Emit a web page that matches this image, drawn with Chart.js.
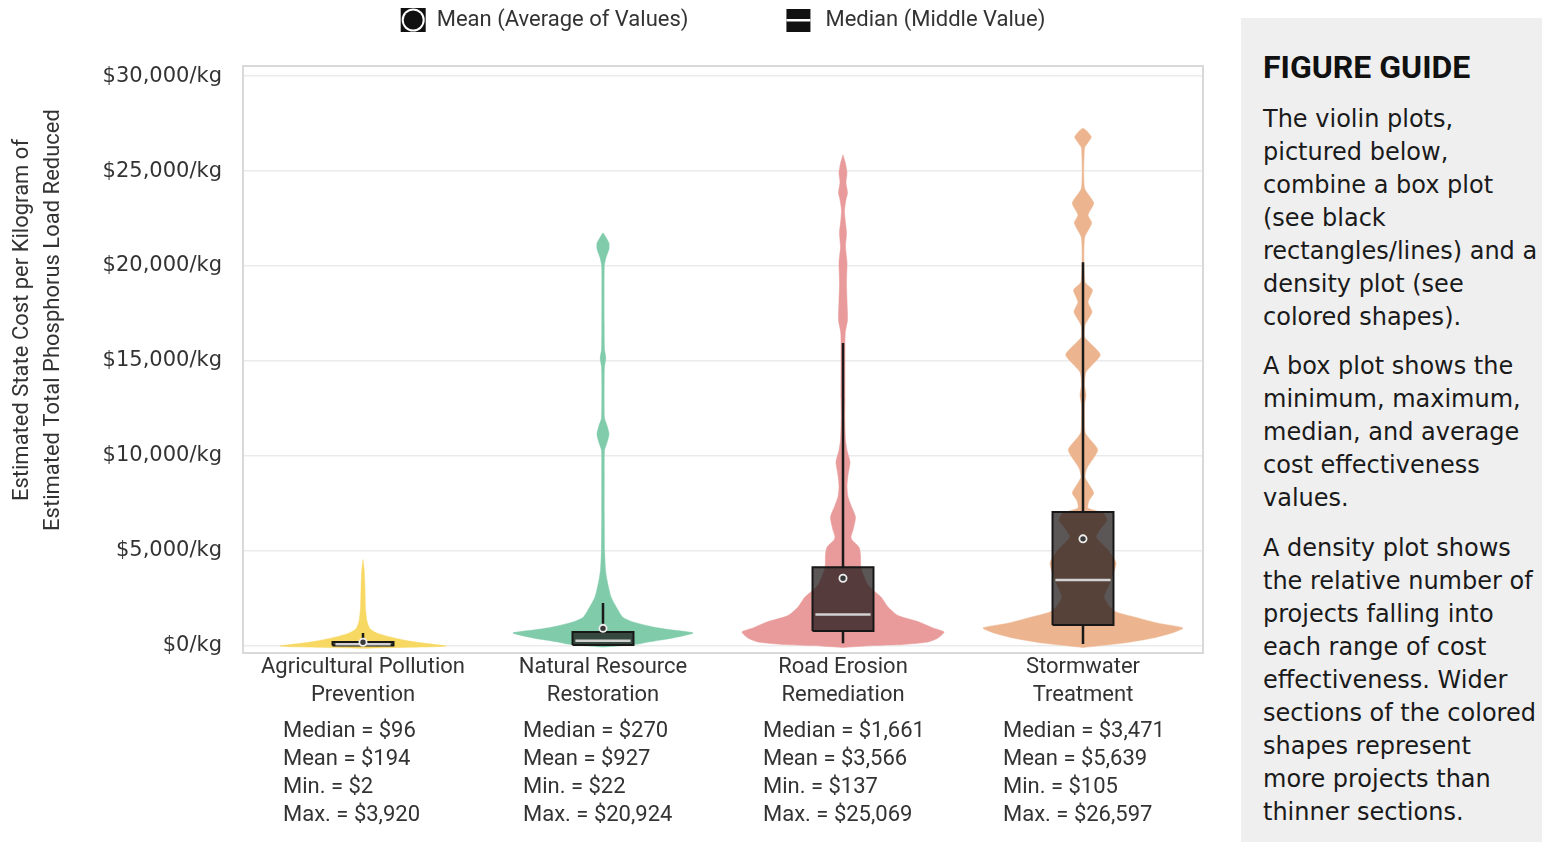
<!DOCTYPE html>
<html>
<head>
<meta charset="utf-8">
<script src="https://cdn.jsdelivr.net/npm/chart.js@4.4.1/dist/chart.umd.min.js"></script>
<style>
html,body{margin:0;padding:0;background:#fff;width:1542px;height:842px;overflow:hidden;}
#wrap{position:relative;width:1542px;height:842px;}
#chart{position:absolute;left:0;top:0;}
#guide{position:absolute;left:1241px;top:18px;width:301px;height:824px;background:#efefef;overflow:hidden;}
#guide .gt{position:absolute;left:22px;top:31px;font:bold 32px Roboto, sans-serif;line-height:36px;color:#111;white-space:nowrap;}
#guide .gp{position:absolute;left:22px;font:24px "DejaVu Sans", Verdana, sans-serif;line-height:33px;color:#1a1a1a;white-space:nowrap;}
</style>
</head>
<body>
<div id="wrap">
  <canvas id="chart" width="1542" height="842"></canvas>
  <div id="guide">
    <div class="gt">FIGURE GUIDE</div>
    <div class="gp" style="top:85px">The violin plots,<br>pictured below,<br>combine a box plot<br>(see black<br>rectangles/lines) and a<br>density plot (see<br>colored shapes).</div>
    <div class="gp" style="top:332px">A box plot shows the<br>minimum, maximum,<br>median, and average<br>cost effectiveness<br>values.</div>
    <div class="gp" style="top:514px">A density plot shows<br>the relative number of<br>projects falling into<br>each range of cost<br>effectiveness. Wider<br>sections of the colored<br>shapes represent<br>more projects than<br>thinner sections.</div>
  </div>
</div>
<script>
// ---------------- DATA ----------------
const categories = [
  ["Agricultural Pollution", "Prevention"],
  ["Natural Resource", "Restoration"],
  ["Road Erosion", "Remediation"],
  ["Stormwater", "Treatment"]
];
const medianValues = [96, 270, 1661, 3471];
const meanValues   = [194, 927, 3566, 5639];
const minValues    = [2, 22, 137, 105];
const maxValues    = [3920, 20924, 25069, 26597];
const q1Values     = [30, 50, 790, 1100];
const q3Values     = [210, 740, 4150, 7050];
const whiskerHigh  = [680, 2260, 15950, 20200];

const yTickValues = [0, 5000, 10000, 15000, 20000, 25000, 30000];

// density profiles: value levels ($/kg) and relative density (1 = widest)
const agLevels  = [-120, -40, 0, 150, 300, 500, 700, 900, 1300, 2000, 3000, 4000, 4550];
const agDensity = [0, 0.72, 0.83, 0.60, 0.42, 0.25, 0.13, 0.07, 0.04, 0.025, 0.02, 0.012, 0];

const nrLevels  = [-60, 0, 100, 210, 421, 684, 850, 1000, 1263, 1500, 1895, 2579, 3474, 4000, 5000, 7000, 9000, 10300, 10700, 11150, 11600, 12000, 14000, 14700, 15150, 15600, 17000, 20000, 20450, 20900, 21200, 21500, 21750];
const nrDensity = [0, 0.15, 0.35, 0.45, 0.70, 0.90, 0.68, 0.50, 0.30, 0.20, 0.15, 0.08, 0.04, 0.025, 0.016, 0.013, 0.013, 0.015, 0.04, 0.06, 0.04, 0.015, 0.012, 0.015, 0.028, 0.015, 0.012, 0.013, 0.03, 0.06, 0.06, 0.03, 0];

const reLevels  = [-80, 20, 80, 210, 420, 737, 950, 1263, 1600, 2053, 2579, 3200, 4100, 4800, 5200, 5580, 5750, 6100, 6790, 7400, 7850, 8400, 9000, 9680, 10300, 10850, 12050, 13000, 15050, 16470, 17160, 18200, 19100, 20200, 21000, 21740, 22500, 22950, 23500, 23850, 24400, 24900, 25400, 25850];
const reDensity = [0, 0.30, 0.60, 0.85, 0.95, 1.01, 0.90, 0.76, 0.55, 0.45, 0.38, 0.25, 0.18, 0.175, 0.16, 0.09, 0.08, 0.10, 0.125, 0.08, 0.05, 0.04, 0.05, 0.07, 0.04, 0.025, 0.018, 0.02, 0.02, 0.022, 0.045, 0.04, 0.035, 0.04, 0.025, 0.035, 0.02, 0.015, 0.03, 0.045, 0.03, 0.04, 0.025, 0];

const swLevels  = [-80, 150, 420, 700, 947, 1200, 1474, 1789, 2100, 2579, 3000, 3474, 4368, 5053, 5737, 6200, 6632, 7000, 7263, 7650, 8053, 8500, 8895, 9368, 10316, 11000, 11263, 12684, 13210, 13737, 14421, 15316, 16000, 16263, 16895, 17579, 18105, 18737, 19158, 21474, 22263, 22684, 23316, 24105, 26210, 26500, 26789, 27100, 27263];
const swDensity = [0, 0.40, 0.70, 0.90, 1.00, 0.75, 0.55, 0.33, 0.26, 0.21, 0.24, 0.28, 0.33, 0.25, 0.13, 0.18, 0.24, 0.20, 0.05, 0.06, 0.107, 0.06, 0.02, 0.04, 0.147, 0.05, 0.02, 0.015, 0.03, 0.015, 0.03, 0.173, 0.06, 0.015, 0.02, 0.09, 0.05, 0.095, 0.02, 0.015, 0.087, 0.05, 0.107, 0.015, 0.015, 0.05, 0.083, 0.04, 0];

const violinLevels  = [agLevels, nrLevels, reLevels, swLevels];
const violinDensity = [agDensity, nrDensity, reDensity, swDensity];

// ---------------- STYLE ----------------
const violinColors = ['#f6d862', '#7fcbaa', '#e99a9a', '#edb58f'];
const VIOLIN_HALF = 0.4167;   // category units at density 1
const BOX_HALF = 0.127;
const TEXT = '#333333';

// ---------------- BUILD ----------------
const datasets = [];
categories.forEach((cat, i) => {
  const cx = i + 0.5;
  const lv = violinLevels[i], dn = violinDensity[i];
  const pts = [];
  for (let k = 0; k < lv.length; k++) pts.push({x: cx + dn[k] * VIOLIN_HALF, y: lv[k]});
  for (let k = lv.length - 1; k >= 0; k--) pts.push({x: cx - dn[k] * VIOLIN_HALF, y: lv[k]});
  datasets.push({data: pts, showLine: true, fill: 'shape', backgroundColor: violinColors[i],
    borderColor: violinColors[i], borderWidth: 0.5, pointRadius: 0, tension: 0.2, order: 50});

  datasets.push({data: [
      {x: cx, y: minValues[i]}, {x: cx, y: q1Values[i]}, {x: cx, y: null},
      {x: cx, y: q3Values[i]}, {x: cx, y: whiskerHigh[i]}],
    showLine: true, spanGaps: false, borderColor: '#1a1a1a', borderWidth: 2.5, pointRadius: 0, order: 40});

  datasets.push({data: [
      {x: cx - BOX_HALF, y: q1Values[i]}, {x: cx + BOX_HALF, y: q1Values[i]},
      {x: cx + BOX_HALF, y: q3Values[i]}, {x: cx - BOX_HALF, y: q3Values[i]},
      {x: cx - BOX_HALF, y: q1Values[i]}],
    showLine: true, fill: 'shape', backgroundColor: 'rgba(28,22,22,0.72)', borderColor: '#171717',
    borderWidth: 2, pointRadius: 0, tension: 0, order: 30});

  datasets.push({data: [{x: cx - BOX_HALF + 0.012, y: medianValues[i]}, {x: cx + BOX_HALF - 0.012, y: medianValues[i]}],
    showLine: true, borderColor: '#d2d2d2', borderWidth: 2.5, pointRadius: 0, order: 20});

  datasets.push({data: [{x: cx, y: meanValues[i]}], showLine: false, pointRadius: 3.6,
    pointBackgroundColor: '#3a3a3a', pointBorderColor: '#eeeeee', pointBorderWidth: 1.8, order: 10});
});

const fmt = v => '$' + v.toLocaleString('en-US');

const framePlugin = {
  id: 'frame',
  beforeDatasetsDraw(chart) {
    const {ctx, chartArea: a} = chart;
    ctx.save();
    ctx.strokeStyle = '#d9d9d9';
    ctx.lineWidth = 2;
    ctx.strokeRect(a.left, a.top, a.right - a.left, a.bottom - a.top);
    ctx.restore();
  }
};

const textPlugin = {
  id: 'texts',
  afterDraw(chart) {
    const {ctx, chartArea: a, scales: {x}} = chart;
    ctx.save();
    ctx.fillStyle = TEXT;
    // y-axis title
    ctx.font = '22px Roboto, sans-serif';
    ctx.textAlign = 'center';
    ctx.textBaseline = 'middle';
    const titleLines = ['Estimated State Cost per Kilogram of', 'Estimated Total Phosphorus Load Reduced'];
    titleLines.forEach((t, k) => {
      ctx.save();
      ctx.translate(22 + k * 31, 320);
      ctx.rotate(-Math.PI / 2);
      ctx.fillText(t, 0, 0);
      ctx.restore();
    });
    // stats
    ctx.textAlign = 'left';
    categories.forEach((c, i) => {
      const px = x.getPixelForValue(i + 0.5) - 80;
      const lines = ['Median = ' + fmt(medianValues[i]), 'Mean = ' + fmt(meanValues[i]),
                     'Min. = ' + fmt(minValues[i]), 'Max. = ' + fmt(maxValues[i])];
      lines.forEach((t, k) => ctx.fillText(t, px, a.bottom + 78 + k * 28));
    });
    // legend
    const cxm = (a.left + a.right) / 2;
    const t1 = 'Mean (Average of Values)', t2 = 'Median (Middle Value)';
    const w1 = ctx.measureText(t1).width, w2 = ctx.measureText(t2).width;
    const total = 25 + 11 + w1 + 98 + 24 + 15 + w2;
    let lx = cxm - total / 2;
    const ly = 20;
    // mean icon
    ctx.fillStyle = '#111';
    ctx.fillRect(lx, ly - 12, 25, 24);
    ctx.fillStyle = '#fff';
    ctx.beginPath(); ctx.arc(lx + 12.5, ly, 11.5, 0, Math.PI * 2); ctx.fill();
    ctx.fillStyle = '#111';
    ctx.beginPath(); ctx.arc(lx + 12.5, ly, 9.5, 0, Math.PI * 2); ctx.fill();
    lx += 25 + 11;
    ctx.fillStyle = TEXT;
    ctx.fillText(t1, lx, ly);
    lx += w1 + 98;
    // median icon
    ctx.fillStyle = '#111';
    ctx.fillRect(lx, ly - 11, 24, 23);
    ctx.fillStyle = '#fff';
    ctx.fillRect(lx, ly - 1, 24, 2.5);
    lx += 24 + 15;
    ctx.fillStyle = TEXT;
    ctx.fillText(t2, lx, ly);
    ctx.restore();
  }
};

new Chart(document.getElementById('chart'), {
  type: 'scatter',
  data: {datasets},
  plugins: [framePlugin, textPlugin],
  options: {
    responsive: false,
    animation: false,
    events: [],
    layout: {padding: {top: 66, right: 339, left: 0, bottom: 0}},
    plugins: {legend: {display: false}, tooltip: {enabled: false}, title: {display: false}},
    scales: {
      x: {
        type: 'linear', min: 0, max: categories.length,
        grid: {display: false, drawTicks: false},
        border: {display: false},
        afterBuildTicks: s => { s.ticks = categories.map((c, i) => ({value: i + 0.5})); },
        afterFit: s => { s.height = 189; },
        ticks: {
          callback: v => categories[Math.round(v - 0.5)],
          font: {family: 'Roboto', size: 22, lineHeight: 1.273},
          color: TEXT, padding: 0, maxRotation: 0, autoSkip: false
        }
      },
      y: {
        min: -370, max: 30530,
        afterBuildTicks: s => { s.ticks = yTickValues.map(v => ({value: v})); },
        afterFit: s => { s.width = 243; },
        grid: {color: '#ebebeb', lineWidth: 1.5, drawTicks: false},
        border: {display: false},
        ticks: {
          callback: v => fmt(v) + '/kg',
          font: {family: 'DejaVu Sans', size: 21},
          color: TEXT, padding: 21
        }
      }
    }
  }
});
</script>
</body>
</html>
